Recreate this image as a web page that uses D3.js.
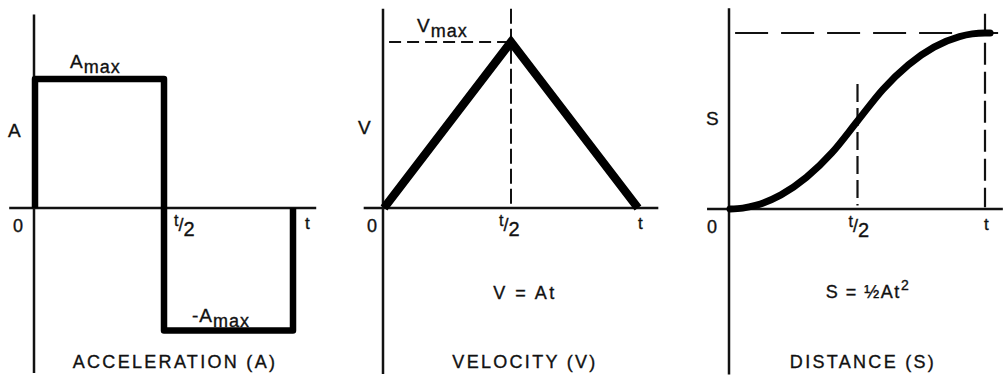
<!DOCTYPE html>
<html>
<head>
<meta charset="utf-8">
<script src="https://cdn.jsdelivr.net/npm/d3@7"></script>
<style>
  body { margin: 0; background: #fff; }
  text { font-family: "Liberation Sans", Arial, sans-serif; fill: #111; stroke: #111; stroke-width: 0.35px; }
</style>
</head>
<body>
<script>
const w = 1005;
const h = 383;

// time is a fraction of t, values a fraction of the max
var accelT = [0, 0, 0.5, 0.5, 1, 1];
var accelV = [0, 1, 1, -0.95, -0.95, 0];

var velT = [0, 0.5, 1];
var velV = [0, 1, 0];

var distT = [0, 0.05, 0.1, 0.2, 0.3, 0.4, 0.5, 0.6, 0.7, 0.8, 0.9, 0.95, 1, 1.02];
var distV = [0, 0.005, 0.02, 0.08, 0.18, 0.32, 0.5, 0.68, 0.82, 0.92, 0.98, 0.995, 1, 1];

var tickLabels = ["0", "t/2", "t"];
var tickPos = [0, 0.5, 1];

const svg = d3.select("body")
              .append("svg")
              .attr("width", w)
              .attr("height", h);

// one scale pair per panel
const x1 = d3.scaleLinear().domain([0, 1]).range([35, 293]);
const y1 = d3.scaleLinear().domain([0, 1]).range([208, 79]);
const x2 = d3.scaleLinear().domain([0, 1]).range([384, 638]);
const y2 = d3.scaleLinear().domain([0, 1]).range([208, 42]);
const x3 = d3.scaleLinear().domain([0, 1]).range([730, 985]);
const y3 = d3.scaleLinear().domain([0, 1]).range([209, 33]);

function axes(x, y, xlo, xhi, ylo, yhi) {
  svg.append("line")
     .attr("x1", x(xlo)).attr("x2", x(xhi))
     .attr("y1", y(0)).attr("y2", y(0))
     .attr("stroke", "#111").attr("stroke-width", 2.5);
  svg.append("line")
     .attr("x1", x(0) - 1).attr("x2", x(0) - 1)
     .attr("y1", y(yhi)).attr("y2", y(ylo))
     .attr("stroke", "#111").attr("stroke-width", 2.5);
}

axes(x1, y1, -0.1, 1.09, -1.28, 1.5);
axes(x2, y2, -0.08, 1.08, -1.0, 1.2);
axes(x3, y3, -0.09, 1.07, -0.94, 1.14);

function dashed(xa, ya, xb, yb, dash, sw) {
  svg.append("line")
     .attr("x1", xa).attr("y1", ya).attr("x2", xb).attr("y2", yb)
     .attr("stroke", "#111").attr("stroke-width", sw)
     .attr("stroke-dasharray", dash);
}

// guide lines
dashed(x2(0.02), y2(1), x2(0.5), y2(1), "12,6", 2);
dashed(x2(0.5), y2(1.2), x2(0.5), y2(0), "15,5", 2);
dashed(x3(0.02), y3(1), w, y3(1), "33,13", 2.2);
dashed(x3(1), y3(1.11), x3(1), y3(0.01), "22,7", 2.2);
dashed(x3(0.5), y3(0.71), x3(0.5), y3(0.02), "18,6", 2.2);

// the three curves
const accelLine = d3.line().x((d) => x1(d[0])).y((d) => y1(d[1]));
svg.append("path")
   .datum(accelT.map((t, i) => [t, accelV[i]]))
   .attr("d", accelLine)
   .attr("fill", "none").attr("stroke", "#000")
   .attr("stroke-width", 6.5).attr("stroke-linejoin", "round");

const velLine = d3.line().x((d) => x2(d[0])).y((d) => y2(d[1]));
svg.append("path")
   .datum(velT.map((t, i) => [t, velV[i]]))
   .attr("d", velLine)
   .attr("fill", "none").attr("stroke", "#000")
   .attr("stroke-width", 8.5).attr("stroke-linejoin", "miter");

const distLine = d3.line().x((d) => x3(d[0])).y((d) => y3(d[1])).curve(d3.curveMonotoneX);
svg.append("path")
   .datum(distT.map((t, i) => [t, distV[i]]))
   .attr("d", distLine)
   .attr("fill", "none").attr("stroke", "#000")
   .attr("stroke-width", 7).attr("stroke-linecap", "round");

// tick labels under each x axis
function ticks(x, y, offs) {
  var y0 = y(0);
  tickPos.forEach((p, i) => {
    var tx = x(p) + offs[i];
    if (tickLabels[i] == "t/2") {
      var t = svg.append("text").attr("x", tx).attr("y", y0 + 18).style("font-size", "16px");
      t.append("tspan").text("t");
      t.append("tspan").text("/").style("font-size", "18px").attr("dy", 5);
      t.append("tspan").text("2").style("font-size", "20px").attr("dy", 5);
    } else if (tickLabels[i] == "t") {
      svg.append("text").attr("x", tx).attr("y", y0 + 21)
         .style("font-size", "17px").text(tickLabels[i]);
    } else {
      svg.append("text").attr("x", tx).attr("y", y0 + 24)
         .style("font-size", "18px").text(tickLabels[i]);
    }
  });
}
ticks(x1, y1, [-22, 10, 12]);
ticks(x2, y2, [-17, -12, 0]);
ticks(x3, y3, [-23, -9, -1]);

function sub(x, y, big, small, pre) {
  var t = svg.append("text").attr("x", x).attr("y", y)
             .style("font-size", "19px").style("letter-spacing", "1px");
  if (pre) t.append("tspan").text(pre).attr("dx", 0);
  t.append("tspan").text(big);
  t.append("tspan").text(small).style("font-size", "18px").attr("dy", 5);
}
sub(70, 68, "A", "max");
sub(192, 322, "A", "max", "-");
sub(417, 32, "V", "max");

svg.append("text").attr("x", 8).attr("y", 137).style("font-size", "19px").text("A");
svg.append("text").attr("x", 358).attr("y", 134).style("font-size", "19px").text("V");
svg.append("text").attr("x", 706).attr("y", 125).style("font-size", "19px").text("S");

// formulas
svg.append("text").attr("x", 525).attr("y", 299).attr("text-anchor", "middle")
   .style("font-size", "18px").style("letter-spacing", "2.5px").text("V = At");
var f = svg.append("text").attr("x", 868).attr("y", 298).attr("text-anchor", "middle")
   .style("font-size", "18px").style("letter-spacing", "1.5px");
f.append("tspan").text("S = \u00bdAt");
f.append("tspan").text("2").style("font-size", "14px").attr("dy", -8);

// captions
var captions = ["ACCELERATION (A)", "VELOCITY (V)", "DISTANCE (S)"];
var capX = [175, 525, 863];
svg.selectAll("text.cap")
   .data(captions)
   .enter()
   .append("text")
   .attr("class", "cap")
   .attr("x", (d, i) => capX[i])
   .attr("y", 368)
   .attr("text-anchor", "middle")
   .style("font-size", "18px")
   .style("letter-spacing", "2.3px")
   .text((d) => d);
</script>
</body>
</html>
